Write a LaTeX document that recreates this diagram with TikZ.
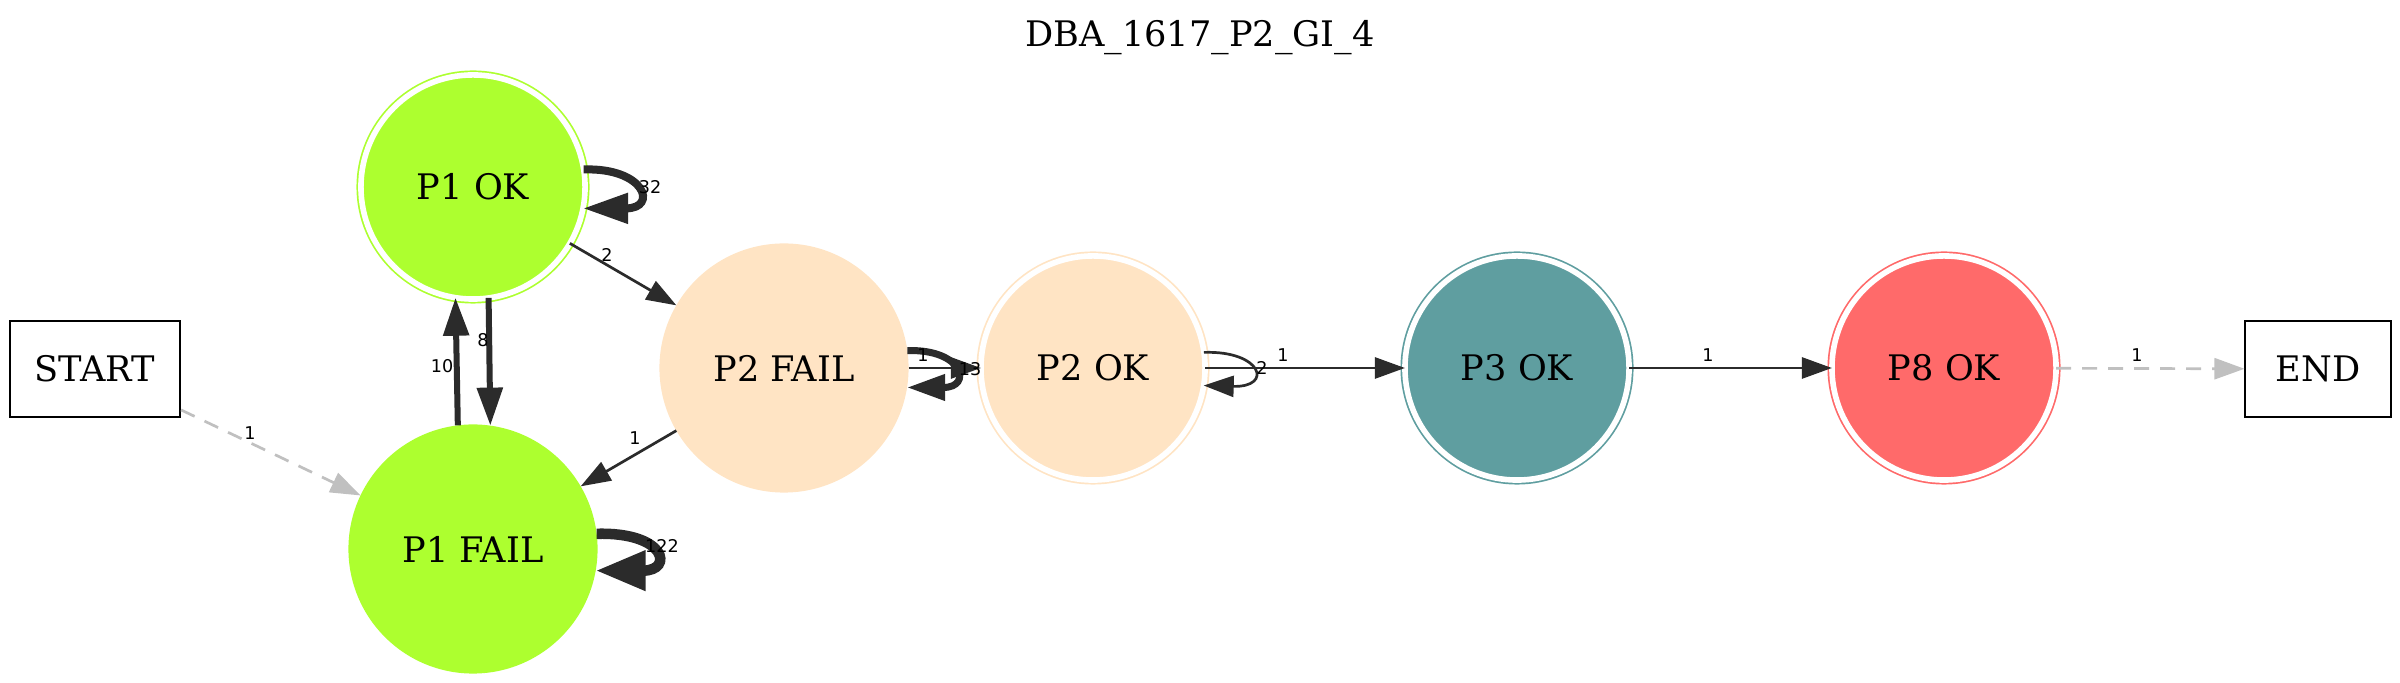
\documentclass[tikz,border=0pt]{standalone}
\usepackage{fontspec}
\setmainfont{DejaVu Serif}
\newfontfamily\lblfont{DejaVu Sans}
\usetikzlibrary{positioning, arrows.meta}
\definecolor{dbagreen}{HTML}{ADFF2F}
\definecolor{dbabisque}{HTML}{FFE4C4}
\definecolor{dbateal}{HTML}{5F9EA0}
\definecolor{dbared}{HTML}{FF6A6A}
\definecolor{dbaedge}{HTML}{2B2B2B}
\definecolor{dbagrey}{HTML}{C0C0C0}

\begin{document}
\begin{tikzpicture}[x=0.01cm, y=-0.01cm,
  every node/.style={align=center, font=\fontsize{10}{12}\selectfont},
  state/.style={circle, inner sep=0pt, outer sep=0pt, minimum size=2.49cm},
  final/.style={circle, inner sep=0pt, outer sep=0pt, minimum size=2.24cm, draw=#1, fill=#1,
    line width=0.017cm, double=white, double distance=0.056cm},
  term/.style={draw, line width=0.02cm, minimum width=1.70cm, minimum height=0.96cm, inner sep=0pt},
  lbl/.style={font=\lblfont\fontsize{5}{6}\selectfont, inner sep=0pt},
  trans/.style={draw=dbaedge, line width=0.027cm, -{Triangle[length=0.30cm, width=0.21cm]}},
  pen/.style n args={3}{line width=#1, -{Triangle[length=#2, width=#3]}},
  ghost/.style={draw=dbagrey, line width=0.027cm, dash pattern=on 0.15cm off 0.11cm,
    -{Triangle[length=0.30cm, width=0.21cm]}}]
  \useasboundingbox (0,0) rectangle (2400,683);

  \node[anchor=base] (title) at (1200,47) {DBA\_1617\_P2\_GI\_4};

  \node[term] (startbox) at (95,369) {START};
  \node[final=dbagreen] (p1ok) at (473,187) {P1 OK};
  \node[state, fill=dbagreen] (p1fail) at (473,549) {P1 FAIL};
  \node[state, fill=dbabisque] (p2fail) at (784,368) {P2 FAIL};
  \node[final=dbabisque] (p2ok) at (1093,368) {P2 OK};
  \node[final=dbateal] (p3ok) at (1517,368) {P3 OK};
  \node[final=dbared] (p8ok) at (1944,368) {P8 OK};
  \node[term, minimum width=1.45cm] (endbox) at (2318,369) {END};

  % transitions
  \draw[ghost] (startbox) -- (p1fail);
  \draw[trans, pen={0.06cm}{0.38cm}{0.25cm}] (p1fail.97.85) -- (p1ok.261.3);
  \draw[trans, pen={0.06cm}{0.38cm}{0.25cm}] (p1ok.278.7) -- (p1fail.82.15);
  \draw[trans] (p1ok) -- (p2fail);
  \draw[trans] (p2fail) -- (p1fail);
  \draw[trans] (p2fail) -- (p2ok);
  \draw[trans] (p2ok) -- (p3ok);
  \draw[trans] (p3ok) -- (p8ok);
  \draw[ghost] (p8ok) -- (endbox);

  % self loops
  \draw[trans, pen={0.08cm}{0.45cm}{0.29cm}] (p1ok.9) .. controls +(62,-2) and +(75,0) .. (p1ok.-11);
  \draw[trans, pen={0.105cm}{0.50cm}{0.38cm}] (p1fail.7) .. controls +(70,-2) and +(78,0) .. (p1fail.-10);
  \draw[trans, pen={0.07cm}{0.38cm}{0.25cm}] (p2fail.8) .. controls +(56,-2) and +(66,0) .. (p2fail.-9);
  \draw[trans] (p2ok.8) .. controls +(58,-2) and +(70,2) .. (p2ok.-9);

  % counts
  \node[lbl] (c32) at (650,187) {32};
  \node[lbl] (c122) at (662,546) {122};
  \node[lbl] (c13) at (970,369) {13};
  \node[lbl] (c2loop) at (1262,368) {2};
  \node[lbl] (c10) at (442,366) {10};
  \node[lbl] (c8) at (483,340) {8};
  \node[lbl] (c2) at (607,255) {2};
  \node[lbl] (cs) at (250,433) {1};
  \node[lbl] (cf) at (635,438) {1};
  \node[lbl] (cp2) at (923,355) {1};
  \node[lbl] (cp3) at (1283,355) {1};
  \node[lbl] (cp8) at (1708,355) {1};
  \node[lbl] (cend) at (2137,355) {1};
\end{tikzpicture}
\end{document}
